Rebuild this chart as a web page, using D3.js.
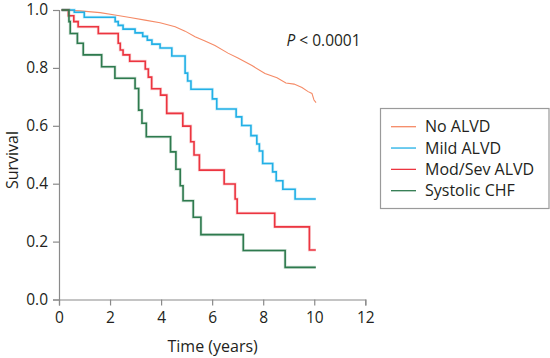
<!DOCTYPE html>
<html>
<head>
<meta charset="utf-8">
<script src="https://cdn.jsdelivr.net/npm/d3@7"></script>
<style>
  html, body { margin: 0; padding: 0; background: #fff; }
  svg { display: block; font-family: "Open Sans", sans-serif; }
</style>
</head>
<body>
<svg id="chart" width="550" height="358"></svg>
<script>
// ---- data ----
const seriesNames = ["No ALVD", "Mild ALVD", "Mod/Sev ALVD", "Systolic CHF"];
const seriesColors = ["#F58A66", "#22B0E6", "#EC3540", "#2E7A4E"];
const xTicks = [0, 2, 4, 6, 8, 10, 12];
const yTicks = [0.0, 0.2, 0.4, 0.6, 0.8, 1.0];

// No ALVD (smooth-looking curve, many small events)
const noAlvdTime = [0.1, 0.82, 1.61, 2.19, 2.78, 3.37, 3.96, 4.55, 4.94, 5.33, 5.72, 6.11, 6.62, 7.01, 7.56, 8.07, 8.54, 8.89, 9.21, 9.52, 9.76, 9.91, 9.99, 10.07];
const noAlvdSurv = [1.0, 0.997, 0.991, 0.983, 0.974, 0.965, 0.956, 0.942, 0.927, 0.908, 0.893, 0.877, 0.851, 0.834, 0.808, 0.781, 0.766, 0.748, 0.744, 0.732, 0.718, 0.712, 0.689, 0.68];

// Mild ALVD (step function)
const mildTime = [0.1, 0.6, 0.99, 2.2, 2.32, 2.51, 2.98, 3.28, 3.46, 3.64, 3.96, 4.42, 4.94, 5.04, 5.17, 6.01, 6.18, 6.94, 7.16, 7.52, 7.75, 7.85, 7.98, 8.37, 8.51, 8.77, 9.25, 10.06];
const mildSurv = [1.0, 0.992, 0.975, 0.96, 0.947, 0.934, 0.921, 0.909, 0.896, 0.882, 0.869, 0.841, 0.782, 0.755, 0.726, 0.693, 0.658, 0.631, 0.601, 0.566, 0.537, 0.513, 0.47, 0.441, 0.41, 0.381, 0.347, 0.347];

// Mod/Sev ALVD (step function)
const modTime = [0.1, 0.37, 0.58, 0.75, 1.54, 2.32, 2.4, 2.51, 2.77, 3.38, 3.5, 3.63, 3.98, 4.22, 4.85, 5.16, 5.29, 5.5, 6.47, 6.9, 6.98, 8.45, 9.81, 10.06];
const modSurv = [1.0, 0.98, 0.96, 0.942, 0.919, 0.885, 0.862, 0.845, 0.823, 0.796, 0.768, 0.728, 0.706, 0.643, 0.599, 0.545, 0.499, 0.447, 0.399, 0.347, 0.298, 0.251, 0.171, 0.171];

// Systolic CHF (step function)
const chfTime = [0.1, 0.39, 0.44, 0.72, 0.95, 1.67, 2.19, 2.98, 3.12, 3.25, 3.42, 4.37, 4.58, 4.75, 4.86, 5.26, 5.56, 7.22, 8.86, 10.06];
const chfSurv = [1.0, 0.96, 0.919, 0.885, 0.845, 0.804, 0.764, 0.729, 0.654, 0.609, 0.562, 0.51, 0.45, 0.393, 0.341, 0.284, 0.224, 0.169, 0.111, 0.111];

const pLabel = "< 0.0001";

// ---- drawing ----
const svg = d3.select("#chart");
const x = d3.scaleLinear().domain([0, 12]).range([59, 365.3]);
const y = d3.scaleLinear().domain([0, 1]).range([299.5, 10]);
const axisColor = "#8a8a8a";
const textColor = "#231f20";

const xAxis = svg.append("g")
  .attr("transform", `translate(0,${y(0)})`)
  .call(d3.axisBottom(x).tickValues(xTicks).tickSizeOuter(0).tickSize(6).tickPadding(4).tickFormat(d3.format("d")));
const yAxis = svg.append("g")
  .attr("transform", `translate(${x(0)},0)`)
  .call(d3.axisLeft(y).tickValues(yTicks).tickSizeOuter(0).tickSize(6).tickPadding(5).tickFormat(d3.format(".1f")));
[xAxis, yAxis].forEach(g => {
  g.select(".domain").attr("stroke", axisColor).attr("stroke-width", 1.2);
  g.selectAll(".tick line").attr("stroke", axisColor).attr("stroke-width", 1.2);
  g.selectAll(".tick text").attr("fill", textColor).style("font-size", "15.5px").style("font-family", "'Open Sans', sans-serif");
});
xAxis.selectAll(".tick text").attr("dy", "0.9em");

const seriesData = [
  { t: noAlvdTime, s: noAlvdSurv, step: false },
  { t: mildTime, s: mildSurv, step: true },
  { t: modTime, s: modSurv, step: true },
  { t: chfTime, s: chfSurv, step: true }
];

seriesData.forEach((ser, i) => {
  const pts = ser.t.map((t, k) => [t, ser.s[k]]);
  const line = d3.line()
    .x(d => x(d[0])).y(d => y(d[1]))
    .curve(ser.step ? d3.curveStepAfter : d3.curveLinear);
  if (ser.step) {
    svg.append("path")
      .datum(pts)
      .attr("d", line)
      .attr("fill", "none")
      .attr("stroke", seriesColors[i])
      .attr("stroke-opacity", 0.22)
      .attr("stroke-width", 3);
  }
  svg.append("path")
    .datum(pts)
    .attr("d", line)
    .attr("fill", "none")
    .attr("stroke", seriesColors[i])
    .attr("stroke-width", ser.step ? 1.6 : 1.1);
});

// P value
const pt = svg.append("text")
  .attr("x", 286.5).attr("y", 45.5)
  .attr("fill", textColor)
  .style("font-size", "15.5px");
pt.append("tspan").attr("font-style", "italic").text("P");
pt.append("tspan").text(" " + pLabel);

// axis titles
svg.append("text")
  .attr("x", x(6) + 0.5).attr("y", 352)
  .attr("text-anchor", "middle")
  .attr("fill", textColor)
  .style("font-size", "16px")
  .text("Time (years)");
svg.append("text")
  .attr("transform", `translate(18,${160}) rotate(-90)`)
  .attr("text-anchor", "middle")
  .attr("fill", textColor)
  .style("font-size", "16px")
  .text("Survival");

// legend
const lg = svg.append("g");
lg.append("rect")
  .attr("x", 380.5).attr("y", 108.5)
  .attr("width", 168.5).attr("height", 100)
  .attr("fill", "#fff")
  .attr("stroke", "#9a9a9a").attr("stroke-width", 1.2);
const legendY = d3.scalePoint().domain(seriesNames).range([126.7, 190.7]);
seriesNames.forEach((name, i) => {
  lg.append("line")
    .attr("x1", 391).attr("x2", 416)
    .attr("y1", legendY(name)).attr("y2", legendY(name))
    .attr("stroke", seriesColors[i]).attr("stroke-width", 1.3);
  lg.append("text")
    .attr("x", 425).attr("y", legendY(name))
    .attr("dy", "0.35em")
    .attr("fill", textColor)
    .style("font-size", "16px")
    .text(name);
});
</script>
</body>
</html>
